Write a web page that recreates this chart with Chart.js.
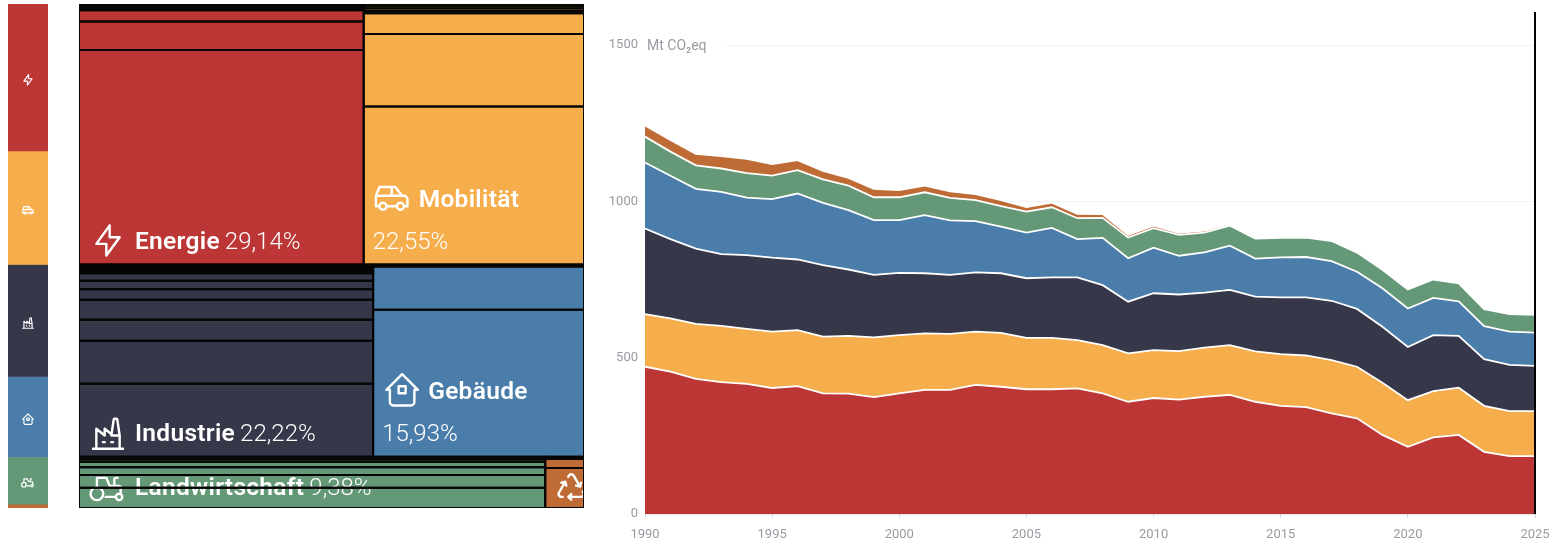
<!DOCTYPE html>
<html>
<head>
<meta charset="utf-8">
<title>Emissionen nach Sektor</title>
<script src="https://cdn.jsdelivr.net/npm/chart.js@4/dist/chart.umd.min.js"></script>
<style>
    html, body { margin: 0; padding: 0; background: #fff; overflow: hidden; }
    canvas { position: absolute; display: block; }
</style>
</head>
<body>
<canvas id="shareBar" width="40" height="504" style="left:8px;top:4px"></canvas>
<canvas id="treemap" width="507" height="506" style="left:78px;top:3px"></canvas>
<canvas id="areaChart" width="960" height="544" style="left:600px;top:0"></canvas>
<script>
const sectors = ['Energie', 'Mobilität', 'Industrie', 'Gebäude', 'Landwirtschaft', 'Abfall'];
const sectorColors = ['#BC3636', '#F6AD4C', '#363748', '#4A7DA9', '#659876', '#BF6B36'];
const sectorShares = [29.14, 22.55, 22.22, 15.93, 9.38, 0.78];
const shareLabels = ['29,14%', '22,55%', '22,22%', '15,93%', '9,38%', ''];

// sub-sector slices of each treemap cell, top to bottom
const energieSlices = [0.23, 0.23, 0.24, 1.24, 3.2, 23.9];
const mobilitaetSlices = [0.2, 0.2, 0.2, 0.2, 1.79, 6.29, 13.67];
const industrieSlices = [0.25, 0.25, 0.25, 0.25, 0.87, 0.98, 1.22, 2.31, 2.42, 4.98, 8.44];
const gebaeudeSlices = [0.17, 3.57, 12.19];
const landwirtschaftSlices = [0.45, 0.45, 1.03, 1.41, 2.33, 3.71];
const abfallSlices = [0.03, 0.14, 0.61];
const allSlices = [energieSlices, mobilitaetSlices, industrieSlices, gebaeudeSlices, landwirtschaftSlices, abfallSlices];
const treemapRows = [[0, 1], [2, 3], [4, 5]];

const years = [1990, 1991, 1992, 1993, 1994, 1995, 1996, 1997, 1998, 1999, 2000, 2001,
    2002, 2003, 2004, 2005, 2006, 2007, 2008, 2009, 2010, 2011, 2012, 2013,
    2014, 2015, 2016, 2017, 2018, 2019, 2020, 2021, 2022, 2023, 2024, 2025];
const energie = [471, 455, 432, 422, 416, 403, 409, 386, 385, 374, 386, 397,
    397, 413, 407, 399, 399, 402, 386, 359, 371, 366, 375, 381,
    359, 346, 342, 322, 306, 253, 215, 245, 253, 199, 185, 185];
const mobilitaet = [168, 171, 176, 180, 176, 180, 179, 181, 185, 191, 186, 181,
    179, 170, 172, 164, 164, 154, 154, 155, 153, 155, 157, 159,
    161, 165, 165, 170, 165, 167, 149, 148, 151, 147, 144, 144];
const industrie = [274, 253, 241, 229, 236, 237, 226, 229, 212, 200, 199, 192,
    189, 190, 191, 191, 194, 201, 192, 165, 182, 181, 176, 177,
    175, 182, 186, 190, 185, 179, 170, 179, 166, 149, 148, 145];
const gebaeude = [211, 203, 191, 199, 184, 187, 211, 199, 190, 175, 169, 186,
    174, 164, 149, 146, 158, 122, 151, 139, 146, 124, 129, 141,
    122, 128, 129, 127, 119, 123, 123, 119, 110, 106, 106, 106];
const landwirtschaft = [83, 77, 75, 75, 78, 75, 75, 75, 78, 73, 73, 73,
    72, 67, 66, 67, 66, 67, 64, 66, 62, 67, 63, 64,
    64, 62, 62, 64, 61, 59, 61, 59, 58, 54, 56, 57];
const abfall = [36, 37, 37, 40, 46, 37, 32, 27, 25, 27, 23, 21,
    21, 19, 19, 15, 15, 14, 12, 8, 8, 6, 6, 4,
    2, 2, 1, 1, 1, 1, 1, 1, 1, 1, 1, 1];
const seriesValues = [energie, mobilitaet, industrie, gebaeude, landwirtschaft, abfall];
const yTicks = [0, 500, 1000, 1500];

const iconPaths = [
    'M13 3v7h6l-8 11v-7H5l8-11',
    'M5 17a2 2 0 1 0 4 0a2 2 0 1 0-4 0M15 17a2 2 0 1 0 4 0a2 2 0 1 0-4 0M5 17H3v-6l2-5h9l4 5h1a2 2 0 0 1 2 2v4h-2m-4 0H9m-6-6h15m-6 0V6',
    'M3 21h18M5 21v-12l5 4v-4l5 4h4M19 21v-8l-1.436-9.574a.5.5 0 0 0-.495-.426h-1.145a.5.5 0 0 0-.494.418L14 13M9 17h1M14 17h1',
    'M5 12H3l9-9 9 9h-2M5 12v7a2 2 0 0 0 2 2h10a2 2 0 0 0 2-2v-7M10 10h4v4h-4z',
    'M1 15a4 4 0 1 0 8 0a4 4 0 1 0-8 0M17 17a2 2 0 1 0 4 0a2 2 0 1 0-4 0M10.5 17h6.5M20 15.2V11a1 1 0 0 0-1-1h-6l-2-5H5v6.5M18 5h-1a1 1 0 0 0-1 1v4',
    'M12 17l-2 2l2 2M10 19h9a2 2 0 0 0 1.75-2.75l-.55-1M8.536 11l-.732-2.732l-2.732.732M7.804 8.268l-4.5 7.794a2 2 0 0 0 1.506 2.89l1.141.024M15.464 11l2.732.732l.732-2.732M18.196 11.732l-4.5-7.794a2 2 0 0 0-3.256-.14l-.591.976'
];
// icon placement in the treemap, relative to the cell's bottom left corner
const iconPlaces = [
    { dx: 9, dy: -44, size: 40 },
    { dx: 7, dy: -88, size: 42 },
    { dx: 9, dy: -43, size: 40 },
    { dx: 8, dy: -88, size: 42 },
    { dx: 10, dy: -38, size: 38 },
    { dx: 9, dy: -38, size: 34 }
];
const fontFamily = 'Roboto, "Noto Sans", sans-serif';

function drawIcon(ctx, index, x, y, size, lineWidth) {
    ctx.save();
    ctx.translate(x, y);
    ctx.scale(size / 24, size / 24);
    ctx.lineWidth = lineWidth * 24 / size;
    ctx.strokeStyle = '#fff';
    ctx.lineJoin = 'round';
    ctx.lineCap = 'round';
    ctx.stroke(new Path2D(iconPaths[index]));
    ctx.restore();
}

function renderShareBar() {
    const smallIcons = {
        id: 'smallIcons',
        afterDatasetsDraw(chart) {
            const yScale = chart.scales.y;
            let total = 0;
            sectorShares.forEach((share, i) => {
                const mid = yScale.getPixelForValue(total + share / 2);
                total += share;
                if (i < 5) drawIcon(chart.ctx, i, 13, mid - 4.5, 14, 1.2);
            });
        }
    };
    new Chart(document.getElementById('shareBar'), {
        type: 'bar',
        data: {
            labels: [''],
            datasets: sectors.map((name, i) => ({
                label: name,
                data: [sectorShares[i]],
                backgroundColor: sectorColors[i],
                borderWidth: 0,
                barPercentage: 1,
                categoryPercentage: 1
            }))
        },
        options: {
            responsive: false,
            animation: false,
            events: [],
            layout: { padding: 0 },
            plugins: { legend: { display: false }, tooltip: { enabled: false } },
            scales: {
                x: { stacked: true, display: false },
                y: { stacked: true, display: false, reverse: true, min: 0, max: 100 }
            }
        },
        plugins: [smallIcons]
    });
}

// slice-and-dice the shares into rows, cells and sub-sector slices
function layoutCells() {
    const cells = [];
    let rowTop = 0;
    treemapRows.forEach(row => {
        const rowHeight = row.reduce((sum, i) => sum + sectorShares[i], 0);
        let left = 0;
        row.forEach(i => {
            const width = sectorShares[i] / rowHeight * 100;
            const sliceTotal = allSlices[i].reduce((a, b) => a + b, 0);
            let top = rowTop;
            allSlices[i].forEach(value => {
                const h = value / sliceTotal * rowHeight;
                cells.push({ sector: i, x0: left, x1: left + width, y0: top, y1: top + h });
                top += h;
            });
            left += width;
        });
        rowTop += rowHeight;
    });
    return cells;
}

function renderTreemap() {
    const cells = layoutCells();
    const shape = c => [
        { x: c.x0, y: c.y0 }, { x: c.x1, y: c.y0 }, { x: c.x1, y: c.y1 },
        { x: c.x0, y: c.y1 }, { x: c.x0, y: c.y0 }
    ];
    const outlines = cells.map(c => ({
        type: 'scatter', showLine: true, data: shape(c), fill: false,
        borderColor: '#050505', borderWidth: 2, borderJoinStyle: 'miter', pointRadius: 0, clip: 0
    }));
    const fills = cells.map(c => ({
        type: 'scatter', showLine: true, data: shape(c), fill: 'shape',
        backgroundColor: sectorColors[c.sector], borderColor: 'transparent', borderWidth: 1, pointRadius: 0, clip: 0
    }));

    // text sits above the fills but below the black slice lines
    const cellLabels = {
        id: 'cellLabels',
        afterDatasetDraw(chart, args) {
            if (args.index !== outlines.length) return;
            const ctx = chart.ctx;
            const xs = chart.scales.x;
            const ys = chart.scales.y;
            const bold = '600 24.5px ' + fontFamily;
            const light = '300 24px ' + fontFamily;
            const left = i => {
                const c = cells.find(cell => cell.sector === i);
                return xs.getPixelForValue(c.x0);
            };
            const bottom = i => {
                const list = cells.filter(cell => cell.sector === i);
                return ys.getPixelForValue(list[list.length - 1].y1);
            };
            const placeIcon = (i, lineWidth) => {
                const p = iconPlaces[i];
                drawIcon(ctx, i, left(i) + p.dx, bottom(i) + p.dy, p.size, lineWidth);
            };
            ctx.save();
            ctx.fillStyle = '#fff';
            ctx.textBaseline = 'alphabetic';
            const put = (text, font, spacing, x, y) => {
                ctx.font = font;
                ctx.letterSpacing = spacing;
                ctx.fillText(text, x, y);
                return ctx.measureText(text).width;
            };
            // wide cells keep name and share on one line
            [0, 2, 4].forEach(i => {
                const x = left(i) + 56;
                const y = bottom(i) - (i === 4 ? 11 : 14) - 2;
                const w = put(sectors[i], bold, '0.3px', x, y);
                put(shareLabels[i], light, '0px', x + w + 5, y);
                placeIcon(i, 2.4);
            });
            [1, 3].forEach(i => {
                const x = left(i) + 9;
                const y = bottom(i) - 16;
                put(shareLabels[i], light, '0px', x, y);
                put(sectors[i], bold, '0.3px', x + 46, y - 42);
                placeIcon(i, 2.4);
            });
            ctx.save();
            ctx.beginPath();
            ctx.rect(left(5), ys.getPixelForValue(90), xs.right - left(5), ys.bottom - ys.getPixelForValue(90));
            ctx.clip();
            placeIcon(5, 2.4);
            ctx.restore();
            ctx.restore();
        }
    };

    new Chart(document.getElementById('treemap'), {
        type: 'scatter',
        data: { datasets: [...outlines, ...fills] },
        options: {
            responsive: false,
            animation: false,
            events: [],
            layout: { padding: 1 },
            plugins: { legend: { display: false }, tooltip: { enabled: false } },
            scales: {
                x: { type: 'linear', display: false, min: 0, max: 100 },
                y: { type: 'linear', display: false, reverse: true, min: 0, max: 100 }
            }
        },
        plugins: [cellLabels]
    });
}

function renderAreaChart() {
    const unitAndMarker = {
        id: 'unitAndMarker',
        beforeDatasetsDraw(chart) {
            const ctx = chart.ctx;
            const y = chart.scales.y.getPixelForValue(1500);
            const x = chart.scales.x.getPixelForValue(1990);
            ctx.save();
            ctx.fillStyle = '#fff';
            ctx.fillRect(x - 1, y - 10, 82, 20);
            ctx.fillStyle = '#9a9aa2';
            ctx.font = '400 14px ' + fontFamily;
            ctx.textBaseline = 'middle';
            ctx.fillText('Mt CO₂eq', x + 2, y + 1);
            ctx.restore();
        },
        afterDatasetsDraw(chart) {
            const ctx = chart.ctx;
            const x = chart.scales.x.getPixelForValue(2025);
            ctx.save();
            ctx.strokeStyle = '#000';
            ctx.lineWidth = 2;
            ctx.beginPath();
            ctx.moveTo(x, 12);
            ctx.lineTo(x, chart.scales.y.getPixelForValue(0));
            ctx.stroke();
            ctx.restore();
        }
    };

    new Chart(document.getElementById('areaChart'), {
        type: 'line',
        data: {
            datasets: sectors.map((name, i) => ({
                label: name,
                data: years.map((year, k) => ({ x: year, y: seriesValues[i][k] })),
                backgroundColor: sectorColors[i],
                borderColor: '#fff',
                borderWidth: 1.8,
                pointRadius: 0,
                tension: 0,
                fill: i === 0 ? 'origin' : '-1'
            }))
        },
        options: {
            responsive: false,
            animation: false,
            events: [],
            layout: { padding: { top: 45, right: 25, left: 0, bottom: 0 } },
            plugins: { legend: { display: false }, tooltip: { enabled: false } },
            scales: {
                x: {
                    type: 'linear',
                    min: 1990,
                    max: 2025,
                    afterFit: scale => { scale.height = 30; },
                    border: { color: '#e3e3e6' },
                    grid: { drawOnChartArea: false, tickLength: 4, tickColor: '#d8d8dc' },
                    ticks: {
                        stepSize: 5,
                        maxRotation: 0,
                        autoSkip: false,
                        padding: 9,
                        color: '#9a9aa2',
                        font: { family: fontFamily, size: 13 },
                        callback: v => String(v)
                    }
                },
                y: {
                    stacked: true,
                    min: 0,
                    max: 1500,
                    afterBuildTicks: scale => { scale.ticks = yTicks.map(value => ({ value })); },
                    afterFit: scale => { scale.width = 45; },
                    border: { display: false },
                    grid: { color: '#f2f2f4', drawTicks: false },
                    ticks: {
                        padding: 7,
                        color: '#9a9aa2',
                        font: { family: fontFamily, size: 13 },
                        callback: v => String(v)
                    }
                }
            }
        },
        plugins: [unitAndMarker]
    });
}

window.addEventListener('load', () => {
    renderShareBar();
    renderTreemap();
    renderAreaChart();
});
</script>
</body>
</html>
